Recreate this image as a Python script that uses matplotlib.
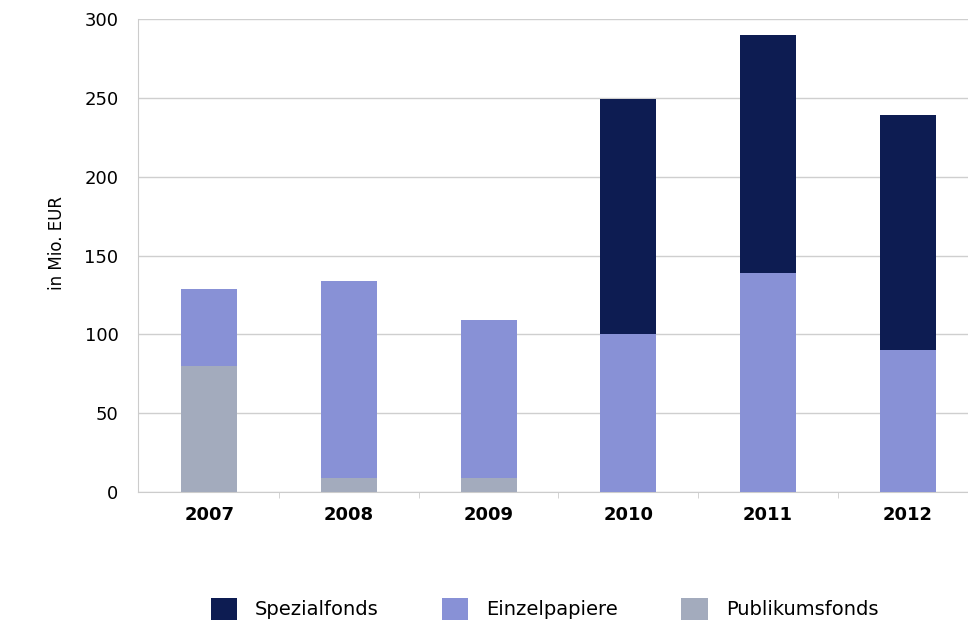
import matplotlib.pyplot as plt
import numpy as np

# Anlagevolumen nach Anlageform, in Mio. EUR
years = ['2007', '2008', '2009', '2010', '2011', '2012']
publikumsfonds = [80, 9, 9, 0, 0, 0]
einzelpapiere = [49, 125, 100, 100, 139, 90]
spezialfonds = [0, 0, 0, 149, 151, 149]

plt.rcParams['font.family'] = ['DejaVu Sans']

fig = plt.figure(figsize=(9.68, 6.24), dpi=100)
ax = fig.add_axes([0.1426, 0.2115, 0.86, 0.758])

x = np.arange(len(years))
bar_width = 0.4
bottom2 = np.array(publikumsfonds)
bottom3 = bottom2 + np.array(einzelpapiere)

ax.bar(x, publikumsfonds, bar_width, color='#a3abbd', label='Publikumsfonds', zorder=3)
ax.bar(x, einzelpapiere, bar_width, bottom=bottom2, color='#8891d6', label='Einzelpapiere', zorder=3)
ax.bar(x, spezialfonds, bar_width, bottom=bottom3, color='#0d1c52', label='Spezialfonds', zorder=3)

ax.set_xlim(-0.51, 5.45)
ax.set_ylim(0, 300)
ax.set_yticks(range(0, 301, 50))
ax.set_xticks(x)
ax.set_xticklabels(years, fontweight='bold', fontsize=13)
ax.tick_params(axis='x', length=0, pad=10)
ax.tick_params(axis='y', length=0, labelsize=13, pad=14)
ax.set_xticks(x[:-1] + 0.5, minor=True)
ax.tick_params(axis='x', which='minor', length=4, color='#cccccc')

ax.grid(axis='y', color='#cfcfcf', linewidth=1, zorder=0)
for side in ['top', 'right']:
    ax.spines[side].set_visible(False)
ax.spines['left'].set_color('#cccccc')
ax.spines['bottom'].set_color('#cccccc')

ax.set_ylabel('in Mio. EUR', fontsize=12)
ax.yaxis.set_label_coords(-0.086, 0.526)

handles, labels = ax.get_legend_handles_labels()
fig.legend(handles[::-1], labels[::-1], loc='center', bbox_to_anchor=(0.5625, 0.024),
           ncol=3, frameon=False, fontsize=14, handlelength=1.34, handleheight=1.4,
           handletextpad=0.95, columnspacing=3.25)

fig.savefig('out.png', dpi=100)
